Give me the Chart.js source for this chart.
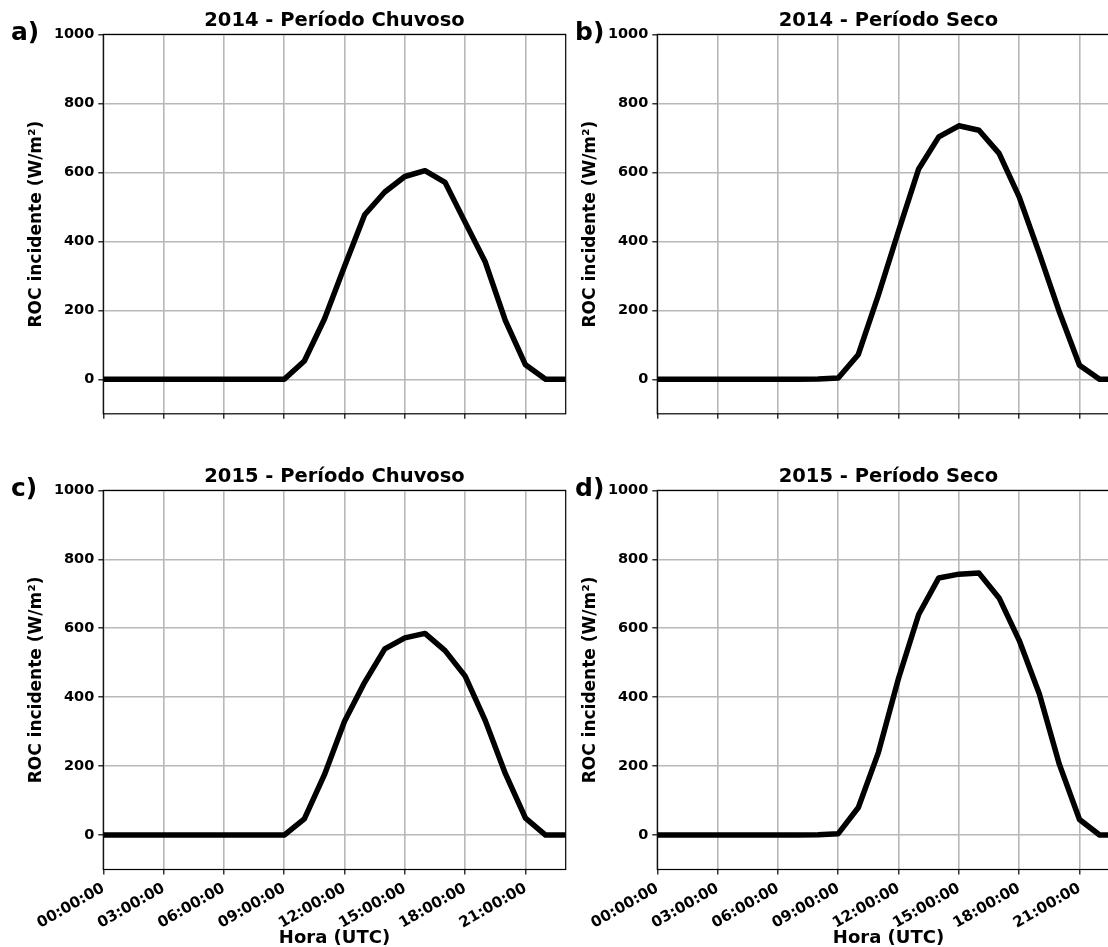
<!DOCTYPE html>
<html>
<head>
<meta charset="utf-8">
<script src="https://cdn.jsdelivr.net/npm/chart.js@4/dist/chart.umd.min.js"></script>
<style>
  html, body { margin: 0; padding: 0; background: #fff; overflow: hidden; }
  #wrap { position: relative; width: 1108px; height: 947px; overflow: hidden; }
  canvas { position: absolute; }
</style>
</head>
<body>
<div id="wrap">
  <canvas id="pa" width="580" height="445" style="left:0;top:0"></canvas>
  <canvas id="pb" width="580" height="445" style="left:554px;top:0"></canvas>
  <canvas id="pc" width="580" height="500" style="left:0;top:456px"></canvas>
  <canvas id="pd" width="580" height="500" style="left:554px;top:456px"></canvas>
</div>
<script>
// hora do dia (UTC) e ROC incidente media (W/m²)
const hours = [0, 1, 2, 3, 4, 5, 6, 7, 8, 9, 10, 11, 12, 13, 14, 15, 16, 17, 18, 19, 20, 21, 22, 23];
const roc2014Chuvoso = [0, 0, 0, 0, 0, 0, 0, 0, 0, 0, 53, 175, 328, 477, 543, 588, 605, 571, 455, 340, 170, 42, 0, 0];
const roc2014Seco = [0, 0, 0, 0, 0, 0, 0, 0, 1, 4, 72, 245, 430, 610, 703, 735, 722, 655, 529, 365, 195, 41, 0, 0];
const roc2015Chuvoso = [0, 0, 0, 0, 0, 0, 0, 0, 0, 0, 47, 175, 330, 443, 540, 572, 585, 535, 461, 332, 178, 49, 0, 0];
const roc2015Seco = [0, 0, 0, 0, 0, 0, 0, 0, 1, 4, 80, 240, 455, 640, 746, 757, 760, 688, 565, 410, 205, 45, 0, 0];

const xTicks = [0, 3, 6, 9, 12, 15, 18, 21];
const yTicks = [0, 200, 400, 600, 800, 1000];

Chart.defaults.font.family = "'DejaVu Sans', sans-serif";
Chart.defaults.font.weight = "bold";
Chart.defaults.color = "#000";

function hourLabel(h) {
    return String(h).padStart(2, "0") + ":00:00";
}

// moldura dos eixos + letra do painel
const framePlugin = {
    id: "frame",
    afterDraw(chart, args, opts) {
        const { ctx, chartArea: a } = chart;
        ctx.save();
        ctx.strokeStyle = "#000";
        ctx.lineWidth = 1.2;
        ctx.strokeRect(a.left, a.top, a.right - a.left, a.bottom - a.top);
        ctx.font = "bold 25px 'DejaVu Sans'";
        ctx.fillStyle = "#000";
        ctx.textBaseline = "alphabetic";
        ctx.fillText(opts.letter, opts.lx, a.top + 5.5);
        ctx.restore();
    },
};

function makePanel(id, values, title, letter, lx, bottomRow) {
    const canvas = document.getElementById(id);
    const areaBottom = bottomRow ? 413.5 : 413.8;
    return new Chart(canvas, {
        type: "line",
        data: {
            datasets: [
                {
                    data: hours.map((h, i) => ({ x: h, y: values[i] })),
                    borderColor: "#000",
                    borderWidth: 5.5,
                    pointRadius: 0,
                    tension: 0,
                    clip: 0,
                    borderJoinStyle: "round",
                },
            ],
        },
        plugins: [framePlugin],
        options: {
            responsive: false,
            animation: false,
            devicePixelRatio: 1,
            layout: { padding: { left: 0, right: 14.3, top: 0, bottom: 0 } },
            plugins: {
                legend: { display: false },
                tooltip: { enabled: false },
                title: {
                    display: true,
                    text: title,
                    fullSize: false,
                    font: { size: 19.5, weight: "bold", lineHeight: 1.2 },
                    color: "#000",
                    padding: { top: 9, bottom: 2 },
                },
                frame: { letter: letter, lx: lx },
            },
            scales: {
                x: {
                    type: "linear",
                    min: 0,
                    max: 23,
                    afterBuildTicks: (s) => { s.ticks = xTicks.map((v) => ({ value: v })); },
                    afterFit: (s) => { s.height = canvas.height - areaBottom; },
                    grid: { color: "#b8b8b8", lineWidth: 1.6, tickColor: "#000", tickLength: 5, tickWidth: 1.2 },
                    border: { display: false },
                    ticks: {
                        display: bottomRow,
                        autoSkip: false,
                        minRotation: 30,
                        maxRotation: 30,
                        padding: 5,
                        font: { size: 15, weight: "bold" },
                        callback: (v) => hourLabel(v),
                    },
                    title: {
                        display: bottomRow,
                        text: "Hora (UTC)",
                        font: { size: 18, weight: "bold" },
                        padding: { top: 0, bottom: 6.5 },
                    },
                },
                y: {
                    min: -100,
                    max: 1000,
                    afterBuildTicks: (s) => { s.ticks = yTicks.map((v) => ({ value: v })); },
                    afterFit: (s) => { s.width = 103.3; },
                    grid: { color: "#b8b8b8", lineWidth: 1.6, tickColor: "#000", tickLength: 5, tickWidth: 1.2 },
                    border: { display: false },
                    ticks: { padding: 4, font: { size: 14.5, weight: "bold" }, callback: (v) => String(v) },
                    title: {
                        display: true,
                        text: "ROC incidente (W/m²)",
                        font: { size: 17, weight: "bold" },
                        padding: { top: 26, bottom: 0 },
                    },
                },
            },
        },
    });
}

makePanel("pa", roc2014Chuvoso, "2014 - Período Chuvoso", "a)", 11, false);
makePanel("pb", roc2014Seco, "2014 - Período Seco", "b)", 21, false);
makePanel("pc", roc2015Chuvoso, "2015 - Período Chuvoso", "c)", 11, true);
makePanel("pd", roc2015Seco, "2015 - Período Seco", "d)", 21, true);
</script>
</body>
</html>
